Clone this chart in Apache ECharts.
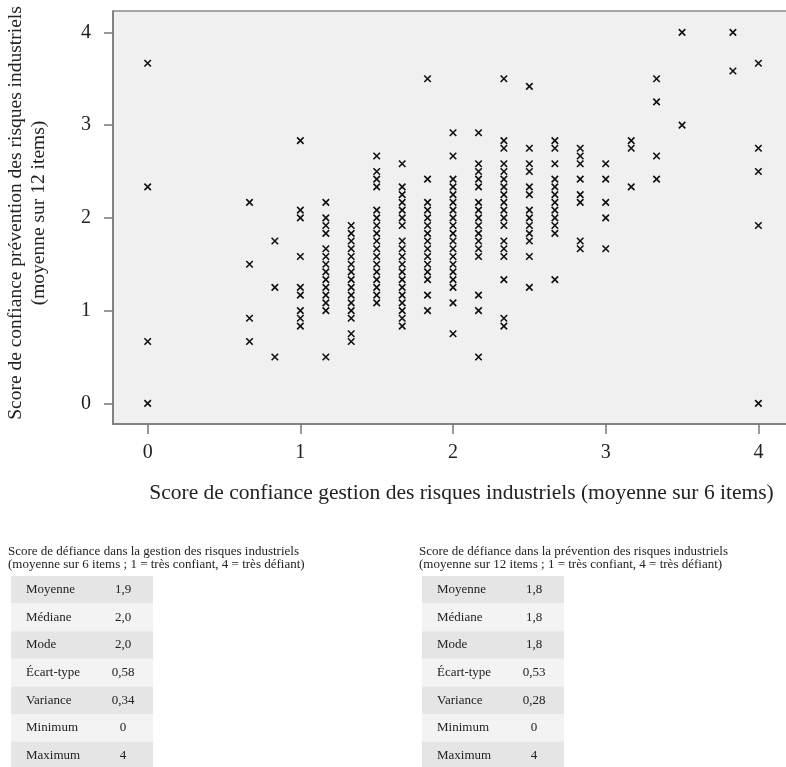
<!DOCTYPE html>
<html>
<head>
<meta charset="utf-8">
<script src="https://cdn.jsdelivr.net/npm/echarts@6/dist/echarts.min.js"></script>
<style>
html, body { margin: 0; padding: 0; background: #fff; }
#main { width: 786px; height: 767px; }
</style>
</head>
<body>
<div id="main"></div>
<script>
// scores : une colonne par valeur de gestion (pas de 1/6)
var colX = [0, 0.667, 0.833, 1, 1.167, 1.333, 1.5, 1.667, 1.833, 2, 2.167, 2.333, 2.5, 2.667, 2.833, 3, 3.167, 3.333, 3.5, 3.833, 4];
var colY = [
    [3.667, 2.333, 0.667, 0],
    [2.167, 1.5, 0.917, 0.667],
    [1.75, 1.25, 0.5],
    [2.833, 2.083, 2.0, 1.583, 1.25, 1.167, 1.0, 0.917, 0.833],
    [2.167, 2.0, 1.917, 1.833, 1.667, 1.583, 1.5, 1.417, 1.333, 1.25, 1.167, 1.083, 1.0, 0.5],
    [1.917, 1.833, 1.75, 1.667, 1.583, 1.5, 1.417, 1.333, 1.25, 1.167, 1.083, 1.0, 0.917, 0.75, 0.667],
    [2.667, 2.5, 2.417, 2.333, 2.083, 2.0, 1.917, 1.833, 1.75, 1.667, 1.583, 1.5, 1.417, 1.333, 1.25, 1.167, 1.083],
    [2.583, 2.333, 2.25, 2.167, 2.083, 2.0, 1.917, 1.75, 1.667, 1.583, 1.5, 1.417, 1.333, 1.25, 1.167, 1.083, 1.0, 0.917, 0.833],
    [3.5, 2.417, 2.167, 2.083, 2.0, 1.917, 1.833, 1.75, 1.667, 1.583, 1.5, 1.417, 1.333, 1.167, 1.0],
    [2.917, 2.667, 2.417, 2.333, 2.25, 2.167, 2.083, 2.0, 1.917, 1.833, 1.75, 1.667, 1.583, 1.5, 1.417, 1.333, 1.25, 1.083, 0.75],
    [2.917, 2.583, 2.5, 2.417, 2.333, 2.167, 2.083, 2.0, 1.917, 1.833, 1.75, 1.667, 1.583, 1.167, 1.0, 0.5],
    [3.5, 2.833, 2.75, 2.583, 2.5, 2.417, 2.333, 2.25, 2.167, 2.083, 2.0, 1.917, 1.75, 1.667, 1.583, 1.333, 0.917, 0.833],
    [3.417, 2.75, 2.583, 2.5, 2.333, 2.25, 2.083, 2.0, 1.917, 1.833, 1.75, 1.583, 1.25],
    [2.833, 2.75, 2.583, 2.417, 2.333, 2.25, 2.167, 2.083, 2.0, 1.917, 1.833, 1.333],
    [2.75, 2.667, 2.583, 2.417, 2.25, 2.167, 1.75, 1.667],
    [2.583, 2.417, 2.167, 2.0, 1.667],
    [2.833, 2.75, 2.333],
    [3.5, 3.25, 2.667, 2.417],
    [4.0, 3.0],
    [4.0, 3.583],
    [3.667, 2.75, 2.5, 1.917, 0]
];
var axisTicks = [0, 1, 2, 3, 4];

// tableaux de statistiques
var statLabels = ['Moyenne', 'Médiane', 'Mode', 'Écart-type', 'Variance', 'Minimum', 'Maximum'];
var gestionStats = ['1,9', '2,0', '2,0', '0,58', '0,34', '0', '4'];
var preventionStats = ['1,8', '1,8', '1,8', '0,53', '0,28', '0', '4'];
var gestionTitle = ['Score de défiance dans la gestion des risques industriels',
    '(moyenne sur 6 items ; 1 = très confiant, 4 = très défiant)'];
var preventionTitle = ['Score de défiance dans la prévention des risques industriels',
    '(moyenne sur 12 items ; 1 = très confiant, 4 = très défiant)'];

var points = [];
colX.forEach(function (x, i) {
    colY[i].forEach(function (y) {
        points.push([x, y]);
    });
});

var SERIF = '"Liberation Serif", "DejaVu Serif", serif';

function buildTable(left, title, values) {
    var els = [];
    title.forEach(function (line, i) {
        els.push({
            type: 'text', x: left - 3, y: 551.5 + i * 13,
            style: { text: line, font: '13px ' + SERIF, fill: '#222', verticalAlign: 'middle' }
        });
    });
    var rowH = 27.6, top0 = 576;
    statLabels.forEach(function (lab, i) {
        var y = top0 + i * rowH;
        els.push({
            type: 'rect', shape: { x: left, y: y, width: 142, height: rowH },
            style: { fill: i % 2 === 0 ? '#e5e5e5' : '#f3f3f3' }
        });
        els.push({
            type: 'text', x: left + 15, y: y + rowH / 2,
            style: { text: lab, font: '13px ' + SERIF, fill: '#222', verticalAlign: 'middle' }
        });
        els.push({
            type: 'text', x: left + 112, y: y + rowH / 2,
            style: { text: values[i], font: '13px ' + SERIF, fill: '#222', align: 'center', verticalAlign: 'middle' }
        });
    });
    return els;
}

var myChart = echarts.init(document.getElementById('main'));
var option = {
    animation: false,
    backgroundColor: '#fff',
    grid: {
        left: 113, top: 11, right: -6, bottom: 343,
        outerBoundsMode: 'none', containLabel: false,
        show: true, backgroundColor: '#f0f0f0', borderColor: '#8a8a8a', borderWidth: 1.5
    },
    xAxis: {
        type: 'value', min: -0.227, max: 4.22,
        name: 'Score de confiance gestion des risques industriels (moyenne sur 6 items)',
        nameLocation: 'middle', nameGap: 58,
        nameTextStyle: { fontFamily: SERIF, fontSize: 21.5, color: '#222', padding: [0, 0, 0, 18] },
        axisLine: { show: true, onZero: false, lineStyle: { color: '#777', width: 1.5 } },
        axisTick: { show: true, length: 10, customValues: axisTicks, lineStyle: { color: '#777', width: 1.5 } },
        axisLabel: { customValues: axisTicks, margin: 19, fontFamily: SERIF, fontSize: 20, color: '#222' },
        splitLine: { show: false }
    },
    yAxis: {
        type: 'value', min: -0.223, max: 4.23,
        name: 'Score de confiance prévention des risques industriels\n(moyenne sur 12 items)',
        nameLocation: 'middle', nameGap: 63, nameRotate: 90,
        nameTextStyle: { fontFamily: SERIF, fontSize: 19.5, color: '#222', lineHeight: 23, padding: [0, 0, 0, 9] },
        axisLine: { show: true, onZero: false, lineStyle: { color: '#777', width: 1.5 } },
        axisTick: { show: true, length: 9, customValues: axisTicks, lineStyle: { color: '#777', width: 1.5 } },
        axisLabel: { customValues: axisTicks, margin: 22, fontFamily: SERIF, fontSize: 20, color: '#222' },
        splitLine: { show: false }
    },
    series: [{
        type: 'scatter',
        data: points,
        symbol: 'path://M0,0L10,10M10,0L0,10',
        symbolSize: 6.5,
        itemStyle: { color: 'none', borderColor: '#111', borderWidth: 1.6, opacity: 1 }
    }],
    graphic: buildTable(11, gestionTitle, gestionStats).concat(buildTable(422, preventionTitle, preventionStats))
};
myChart.setOption(option);
</script>
</body>
</html>
